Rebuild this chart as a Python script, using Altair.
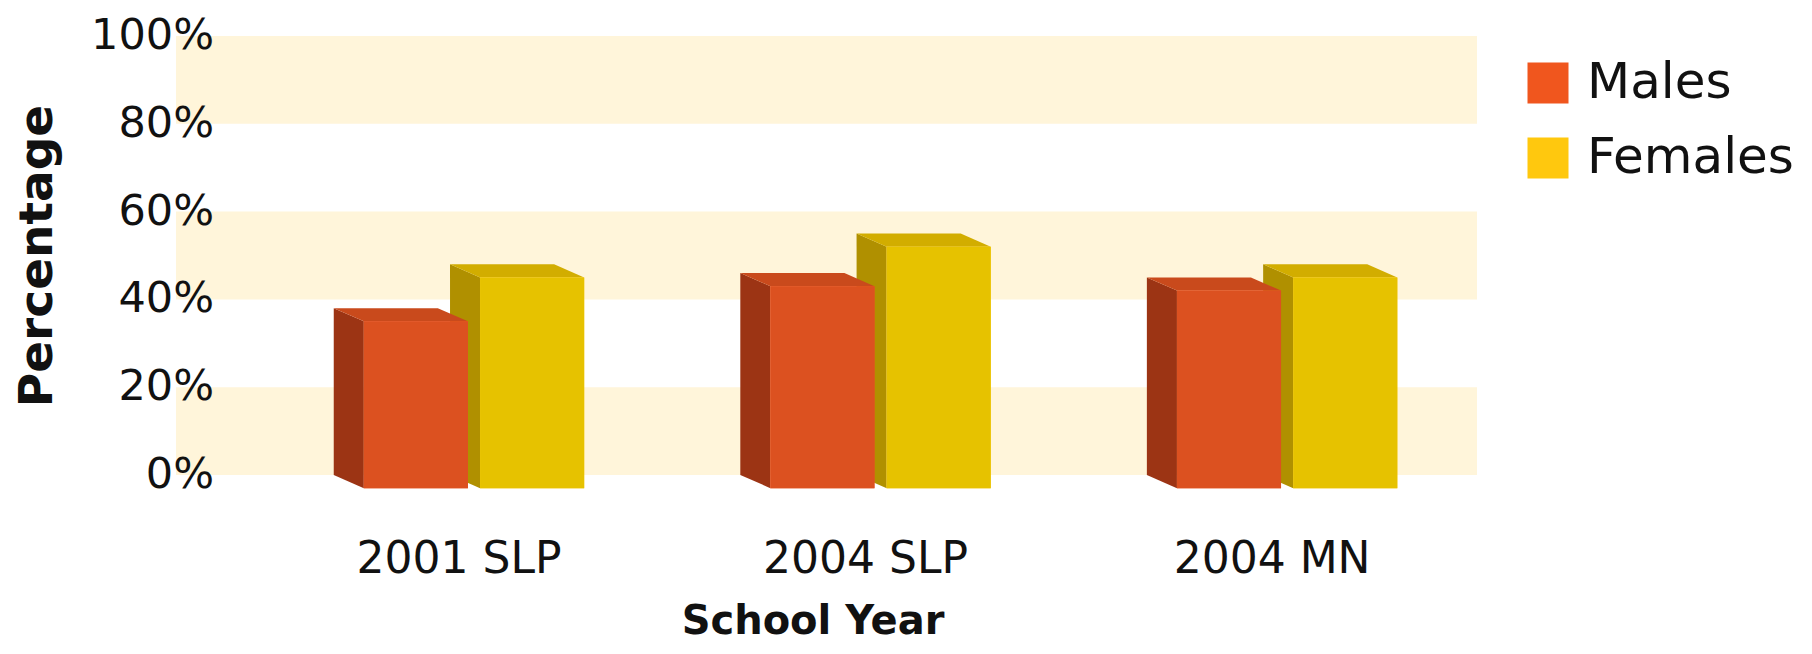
import altair as alt
import pandas as pd

# ---------------- data ----------------
categories = ["2001 SLP", "2004 SLP", "2004 MN"]
series = ["Males", "Females"]
males = [38, 46, 45]
females = [48, 55, 48]
y_ticks = [0, 20, 40, 60, 80, 100]
x_title = "School Year"
y_title = "Percentage"

# ---------------- styles ----------------
legend_colors = ["#F0561E", "#FFC80E"]
front_colors = {"Males": "#DC5120", "Females": "#E6C200"}
side_colors = {"Males": "#9C3414", "Females": "#B09000"}
top_colors = {"Males": "#C94A1C", "Females": "#D2AD00"}
band_color = "#FFF5DA"
text_color = "#111111"
FONT = "DejaVu Sans"

W, H = 1301, 439
DX = 0.074   # 3-D depth along x (data units)
DY = 3.0     # 3-D depth along y (percentage points)
OFF = 0.143  # bar offset from group centre
BW = 0.256   # bar width

values = {"Males": males, "Females": females}
sign = {"Males": -1, "Females": 1}

fronts, sides, tops = [], [], []
for s in ["Females", "Males"]:
    for i, v in enumerate(values[s]):
        cx = i + DX / 2 + sign[s] * OFF
        fl, fr = cx - BW / 2, cx + BW / 2
        bl, br = fl - DX, fr - DX
        bid = f"{i}-{s}"
        fronts.append(dict(series=s, cat=categories[i], x1=fl, x2=fr,
                           y1=-DY, y2=v - DY, fc=front_colors[s]))
        sides.append(dict(bid=bid, sx=bl, sy1=0, sy2=v, fc=side_colors[s]))
        sides.append(dict(bid=bid, sx=fl, sy1=-DY, sy2=v - DY, fc=side_colors[s]))
        tops.append(dict(bid=bid, ty=v, tx1=bl, tx2=br, fc=top_colors[s]))
        tops.append(dict(bid=bid, ty=v - DY, tx1=fl, tx2=fr, fc=top_colors[s]))

df_front = pd.DataFrame(fronts)
df_side = pd.DataFrame(sides)
df_top = pd.DataFrame(tops)
df_band = pd.DataFrame({"lo": y_ticks[0::2], "hi": y_ticks[1::2]})
df_ylab = pd.DataFrame({"t": y_ticks, "lab": [f"{t}%" for t in y_ticks]})
df_xlab = pd.DataFrame({"idx": list(range(len(categories))), "lab": categories})

xscale = alt.Scale(domain=[-0.696, 2.504], nice=False, zero=False)
yscale = alt.Scale(domain=[0, 100], nice=False, zero=False)

bands = alt.Chart(df_band).mark_rect(color=band_color).encode(
    x=alt.value(0), x2=alt.value(W),
    y=alt.Y("lo:Q", scale=yscale, axis=None), y2="hi:Q",
)

side_layer = alt.Chart(df_side).mark_area(orient="vertical").encode(
    x=alt.X("sx:Q", scale=xscale, axis=None),
    y=alt.Y("sy1:Q", scale=yscale, axis=None), y2="sy2:Q",
    detail="bid:N",
    fill=alt.Fill("fc:N", scale=None),
)

top_layer = alt.Chart(df_top).mark_area(orient="horizontal").encode(
    y=alt.Y("ty:Q", scale=yscale, axis=None),
    x=alt.X("tx1:Q", scale=xscale, axis=None), x2="tx2:Q",
    detail="bid:N",
    fill=alt.Fill("fc:N", scale=None),
)

legend_layer = alt.Chart(df_front).mark_rect().encode(
    x=alt.X("x1:Q", scale=xscale, axis=None), x2="x2:Q",
    y=alt.Y("y1:Q", scale=yscale, axis=None), y2="y2:Q",
    color=alt.Color("series:N", scale=alt.Scale(domain=series, range=legend_colors),
                    legend=alt.Legend(title=None, orient="none", legendX=1347, legendY=22,
                                      symbolType="square", symbolSize=1681,
                                      symbolStrokeWidth=0, symbolOpacity=1,
                                      labelFont=FONT, labelFontSize=50, labelColor=text_color,
                                      labelOffset=14, labelLimit=400, rowPadding=25,
                                      padding=0)),
)

front_layer = alt.Chart(df_front).mark_rect().encode(
    x=alt.X("x1:Q", scale=xscale, axis=None), x2="x2:Q",
    y=alt.Y("y1:Q", scale=yscale, axis=None), y2="y2:Q",
    fill=alt.Fill("fc:N", scale=None),
)

# tick labels (y) through the y scale
ylabels = alt.Chart(df_ylab).mark_text(
    font=FONT, fontSize=43, color=text_color, align="right", baseline="middle"
).encode(
    x=alt.value(38),
    y=alt.Y("t:Q", scale=yscale, axis=None),
    text="lab:N",
)

# category labels (x) through the x scale
xlabels = alt.Chart(df_xlab).mark_text(
    font=FONT, fontSize=44, color=text_color, align="center", baseline="middle"
).encode(
    x=alt.X("idx:Q", scale=xscale, axis=None),
    y=alt.value(524),
    text="lab:N",
)

xtitle = alt.Chart(pd.DataFrame({"t": [x_title]})).mark_text(
    font=FONT, fontSize=40, fontWeight="bold", color=text_color,
    align="center", baseline="alphabetic"
).encode(x=alt.value(637), y=alt.value(598), text="t:N")

ytitle = alt.Chart(pd.DataFrame({"t": [y_title]})).mark_text(
    font=FONT, fontSize=47, fontWeight="bold", color=text_color,
    align="center", baseline="middle", angle=270
).encode(x=alt.value(-138), y=alt.value(220), text="t:N")

chart = alt.layer(
    bands, ylabels, side_layer, top_layer, legend_layer, front_layer,
    xlabels, xtitle, ytitle
).properties(
    width=W, height=H,
    autosize=alt.AutoSizeParams(type="none"),
    padding={"left": 168, "top": 28, "right": 327, "bottom": 171},
).configure(background="white", view=alt.ViewConfig(stroke=None))

chart.save("out.html", embed_options={"renderer": "svg", "actions": False})
